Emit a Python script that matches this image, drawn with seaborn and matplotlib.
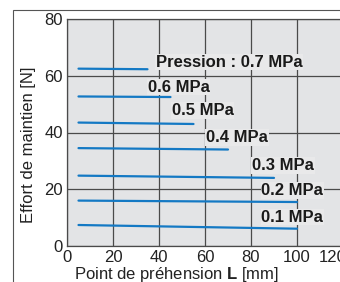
import numpy as np
import pandas as pd
import matplotlib
matplotlib.use("Agg")
import matplotlib.pyplot as plt
import matplotlib.transforms as mtransforms
import seaborn as sns
from matplotlib.patches import Rectangle

# -----------------------------
# Data
# -----------------------------
PRESSURES = ["0.7", "0.6", "0.5", "0.4", "0.3", "0.2", "0.1"]
L_START = [5, 5, 5, 5, 5, 5, 5]
L_END = [35, 45, 55, 70, 90, 100, 100]
F_START = [62.5, 52.7, 43.5, 34.5, 24.8, 16.0, 7.4]
F_END = [62.3, 52.5, 43.0, 34.0, 24.0, 15.5, 6.1]

LABELS = ["Pression : 0.7 MPa", "0.6 MPa", "0.5 MPa", "0.4 MPa", "0.3 MPa", "0.2 MPa", "0.1 MPa"]
LABEL_X = [38.5, 35, 45.5, 60.5, 80.5, 84.5, 84.5]
LABEL_Y = [64.8, 56.0, 47.8, 38.3, 28.4, 19.6, 10.2]

X_TICKS = [0, 20, 40, 60, 80, 100, 120]
Y_TICKS = [0, 20, 40, 60, 80]

BLUE = "#1479c4"
BG = "#e3e4e6"
GRID = "#4a4a4a"

df = pd.concat(
    [
        pd.DataFrame({"L": [xs, xe], "F": [ys, ye], "P": p})
        for p, xs, xe, ys, ye in zip(PRESSURES, L_START, L_END, F_START, F_END)
    ],
    ignore_index=True,
)

# -----------------------------
# Plot
# -----------------------------
sns.set_style("white")
plt.rcParams["font.family"] = ["Liberation Sans", "DejaVu Sans"]
plt.rcParams["mathtext.fontset"] = "custom"
plt.rcParams["mathtext.bf"] = "Liberation Sans:bold"
plt.rcParams["mathtext.rm"] = "Liberation Sans"

fig = plt.figure(figsize=(3.4, 2.82), dpi=100)
ax = fig.add_axes([67 / 340, 36 / 282, 276 / 340, 227 / 282])
ax.set_facecolor(BG)

sns.lineplot(
    data=df, x="L", y="F", hue="P", hue_order=PRESSURES,
    palette=[BLUE] * len(PRESSURES), linewidth=1.6, legend=False, ax=ax,
    zorder=3,
)

ax.set_xlim(0, 120)
ax.set_ylim(0, 80)
ax.set_xticks(X_TICKS)
ax.set_yticks(Y_TICKS)
ax.tick_params(length=0, labelsize=12, colors="#222222")
ax.tick_params(axis="x", pad=3)
ax.tick_params(axis="y", pad=3)
ax.grid(True, color=GRID, linewidth=0.9)
ax.set_axisbelow(True)
for s in ax.spines.values():
    s.set_color(GRID)
    s.set_linewidth(0.9)
ax.set_xlabel("")
ax.set_ylabel("")

# the last x tick label sits a little inside the cut edge in the original
last = ax.get_xticklabels()[-1]
last.set_transform(last.get_transform() + mtransforms.ScaledTranslation(-10 / 100, 0, fig.dpi_scale_trans))

for txt, x, y in zip(LABELS, LABEL_X, LABEL_Y):
    ax.text(x, y, txt, fontsize=12, fontweight="bold", color="#1a1a1a",
            va="center", ha="left", zorder=4,
            bbox=dict(facecolor="#e9e9ea", edgecolor="none", pad=0.6))

fig.text(29 / 340, 1 - 145 / 282, "Effort de maintien [N]", rotation=90,
         ha="center", va="center", fontsize=12, color="#222222")
fig.text(176 / 340, 8 / 282, "Point de préhension $\\mathbf{L}$ [mm]",
         ha="center", va="center", fontsize=12, color="#222222")

# outer frame (cut off at right and bottom)
fig.patches.append(Rectangle((13 / 340, -0.05), 1.1, (272 / 282) + 0.05,
                             transform=fig.transFigure, fill=False,
                             edgecolor="#555555", linewidth=0.8))

fig.savefig("out.png", dpi=100)
